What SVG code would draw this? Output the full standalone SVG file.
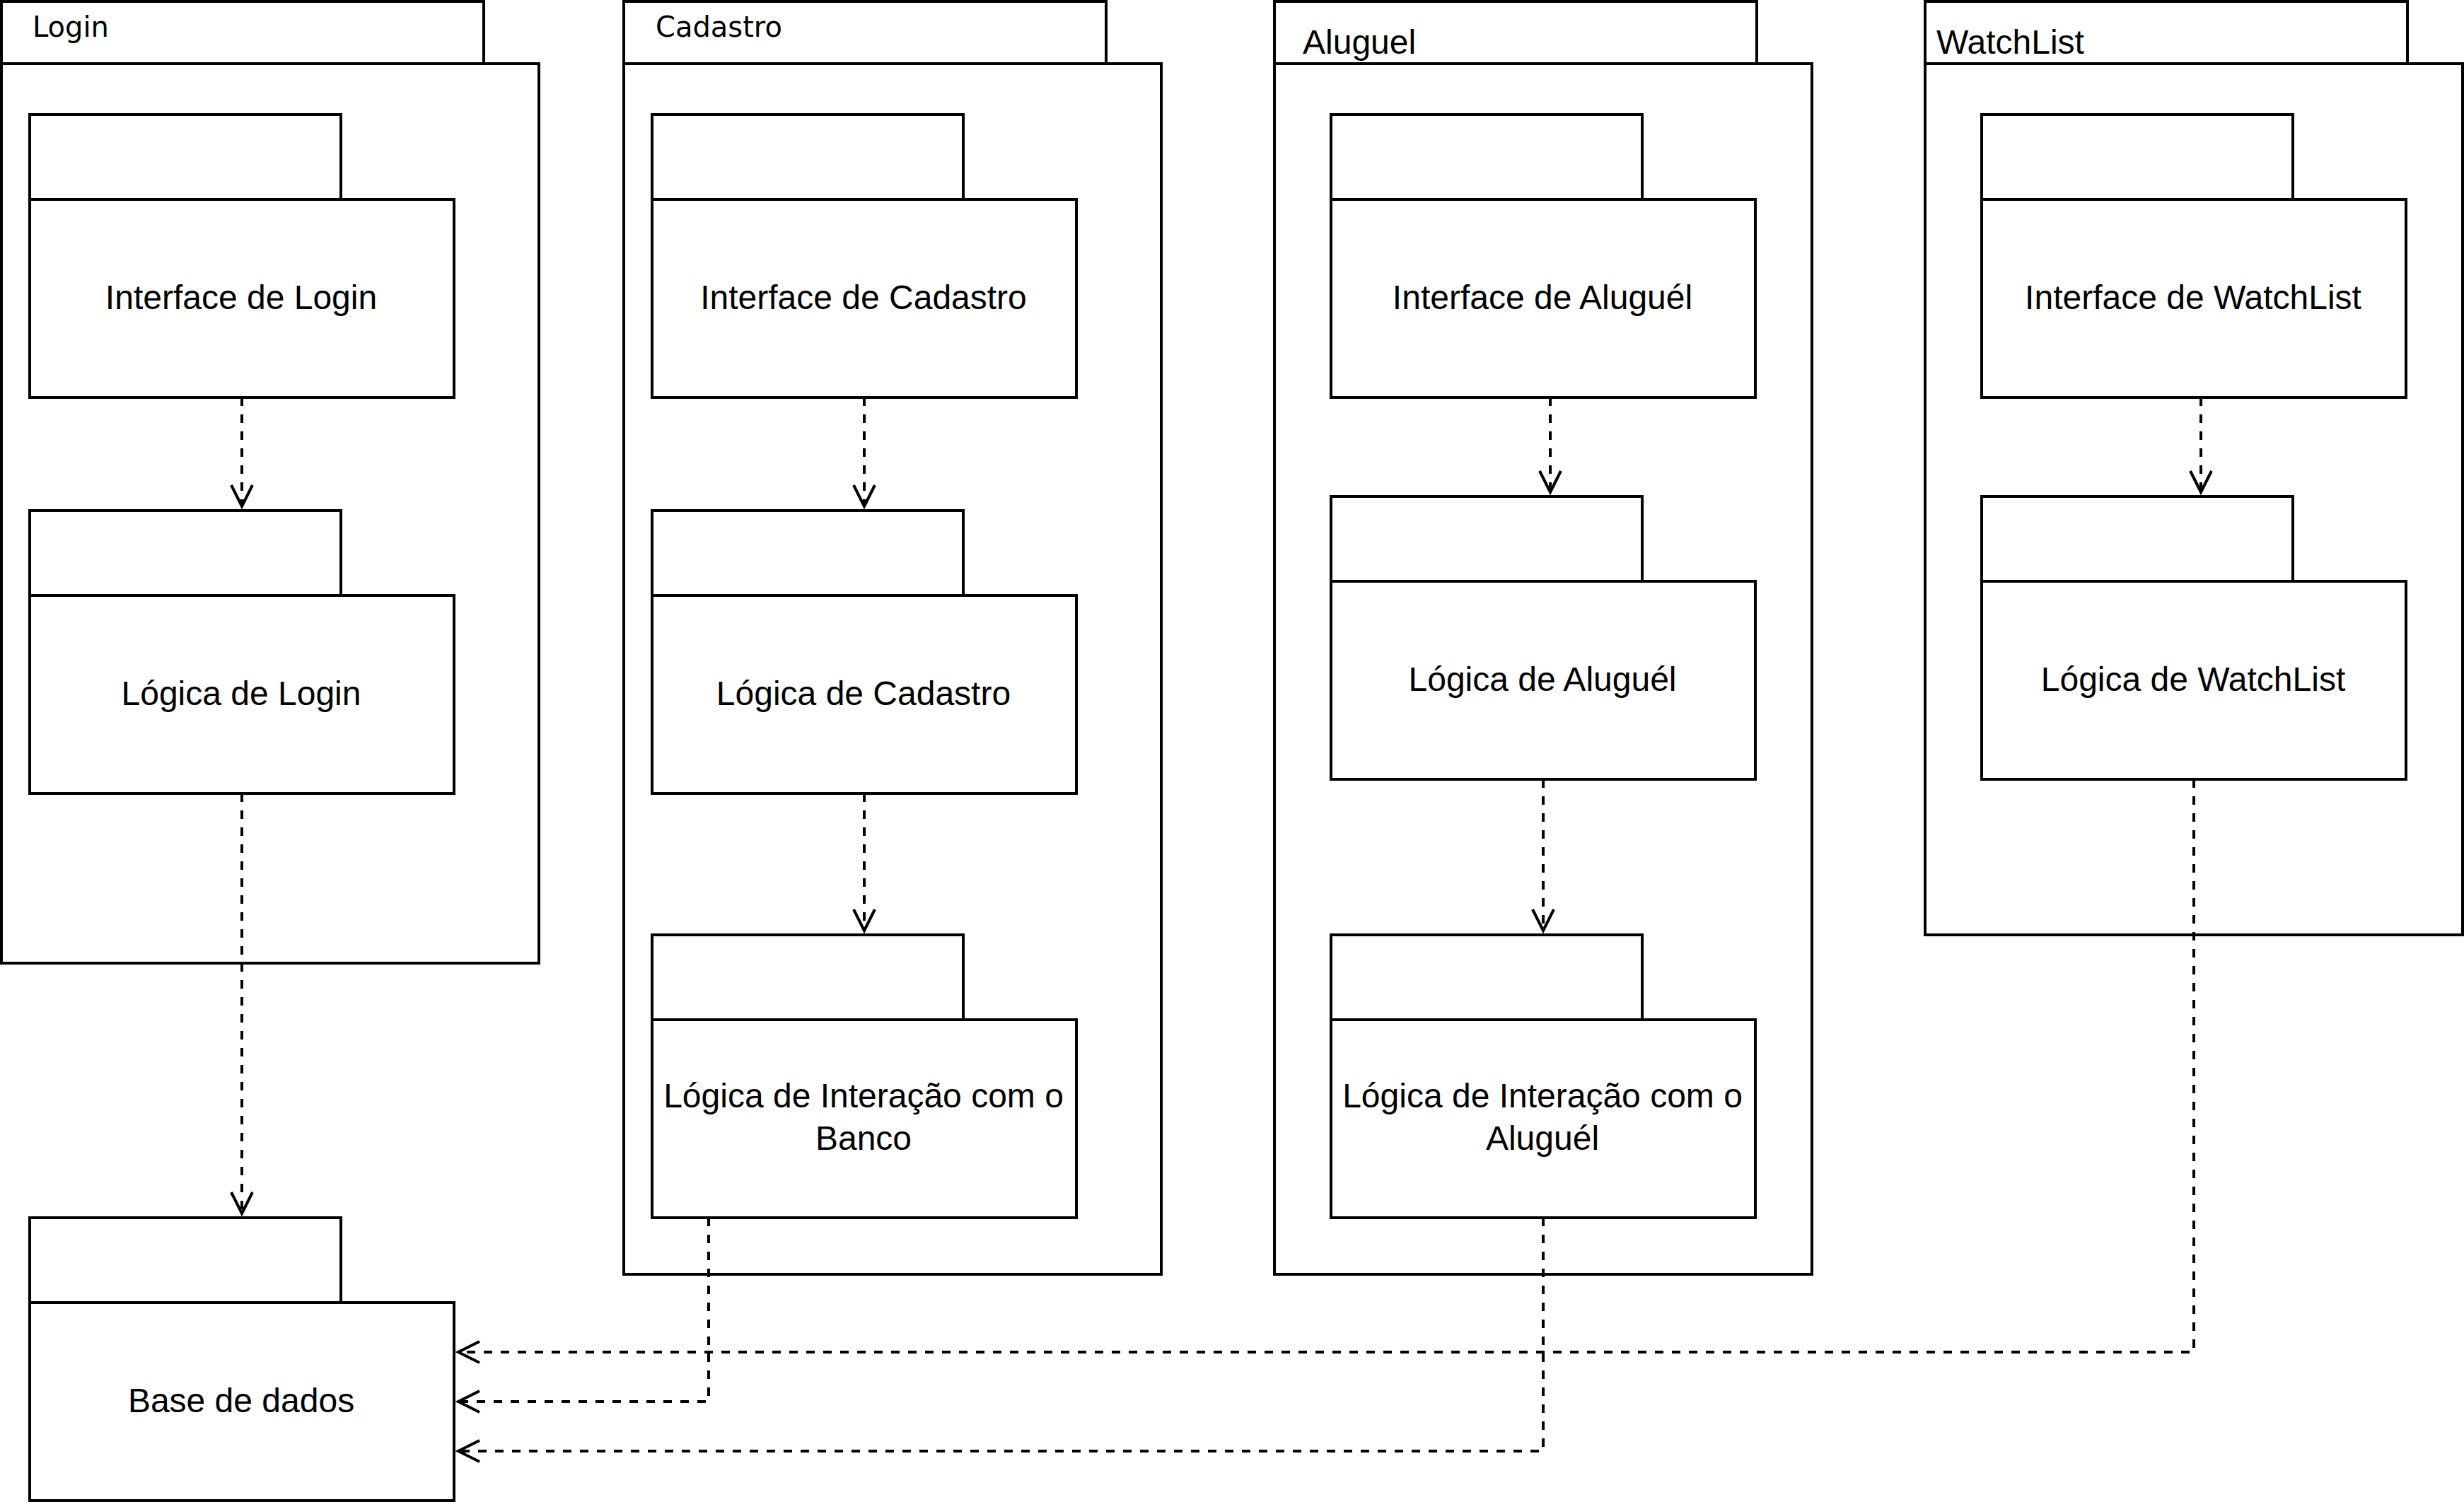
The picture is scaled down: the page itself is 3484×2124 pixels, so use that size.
<svg xmlns="http://www.w3.org/2000/svg" width="3484" height="2124" viewBox="0 0 3484 2124">
<style>
.s{fill:#fff;stroke:#000;stroke-width:4}
.c{fill:none;stroke:#000;stroke-width:4;stroke-dasharray:12 12;marker-end:url(#arr)}
.t{font-family:"Liberation Sans",Arial,sans-serif;font-size:48px;text-anchor:middle;fill:#000}
.tl{font-family:"Liberation Sans",Arial,sans-serif;font-size:48px;fill:#000}
.td{font-family:"DejaVu Sans",Verdana,sans-serif;font-size:40px;fill:#000}
</style>
<defs>
<marker id="arr" markerUnits="userSpaceOnUse" viewBox="-40 -20 50 40" refX="0" refY="0" markerWidth="50" markerHeight="40" orient="auto" overflow="visible">
<path d="M-30,-15 L0,0 L-30,15" fill="none" stroke="#000" stroke-width="4" stroke-dasharray="none"/>
</marker>
</defs>
<rect x="0" y="0" width="3484" height="2124" fill="#fff"/>

<g id="pkg-login">
<rect class="s" x="2" y="2" width="682" height="88"/>
<rect class="s" x="2" y="90" width="760" height="1272"/>
<text class="td" x="46" y="52">Login</text>
</g>
<g id="pkg-cadastro">
<rect class="s" x="882" y="2" width="682" height="88"/>
<rect class="s" x="882" y="90" width="760" height="1712"/>
<text class="td" x="927" y="52">Cadastro</text>
</g>
<g id="pkg-aluguel">
<rect class="s" x="1802" y="2" width="682" height="88"/>
<rect class="s" x="1802" y="90" width="760" height="1712"/>
<text class="tl" x="1842" y="76">Aluguel</text>
</g>
<g id="pkg-watchlist">
<rect class="s" x="2722" y="2" width="682" height="88"/>
<rect class="s" x="2722" y="90" width="760" height="1232"/>
<text class="tl" x="2738" y="76">WatchList</text>
</g>

<g id="interface-login">
<rect class="s" x="42" y="162" width="440" height="120"/>
<rect class="s" x="42" y="282" width="600" height="280"/>
<text class="t" x="341" y="437">Interface de Login</text>
</g>
<g id="logica-login">
<rect class="s" x="42" y="722" width="440" height="120"/>
<rect class="s" x="42" y="842" width="600" height="280"/>
<text class="t" x="341" y="997">Lógica de Login</text>
</g>
<g id="base-dados">
<rect class="s" x="42" y="1722" width="440" height="120"/>
<rect class="s" x="42" y="1842" width="600" height="280"/>
<text class="t" x="341" y="1997">Base de dados</text>
</g>

<g id="interface-cadastro">
<rect class="s" x="922" y="162" width="440" height="120"/>
<rect class="s" x="922" y="282" width="600" height="280"/>
<text class="t" x="1221" y="437">Interface de Cadastro</text>
</g>
<g id="logica-cadastro">
<rect class="s" x="922" y="722" width="440" height="120"/>
<rect class="s" x="922" y="842" width="600" height="280"/>
<text class="t" x="1221" y="997">Lógica de Cadastro</text>
</g>
<g id="interacao-banco">
<rect class="s" x="922" y="1322" width="440" height="120"/>
<rect class="s" x="922" y="1442" width="600" height="280"/>
<text class="t" x="1221" y="1566">Lógica de Interação com o</text>
<text class="t" x="1221" y="1626">Banco</text>
</g>

<g id="interface-aluguel">
<rect class="s" x="1882" y="162" width="440" height="120"/>
<rect class="s" x="1882" y="282" width="600" height="280"/>
<text class="t" x="2181" y="437">Interface de Aluguél</text>
</g>
<g id="logica-aluguel">
<rect class="s" x="1882" y="702" width="440" height="120"/>
<rect class="s" x="1882" y="822" width="600" height="280"/>
<text class="t" x="2181" y="977">Lógica de Aluguél</text>
</g>
<g id="interacao-aluguel">
<rect class="s" x="1882" y="1322" width="440" height="120"/>
<rect class="s" x="1882" y="1442" width="600" height="280"/>
<text class="t" x="2181" y="1566">Lógica de Interação com o</text>
<text class="t" x="2181" y="1626">Aluguél</text>
</g>

<g id="interface-watchlist">
<rect class="s" x="2802" y="162" width="440" height="120"/>
<rect class="s" x="2802" y="282" width="600" height="280"/>
<text class="t" x="3101" y="437">Interface de WatchList</text>
</g>
<g id="logica-watchlist">
<rect class="s" x="2802" y="702" width="440" height="120"/>
<rect class="s" x="2802" y="822" width="600" height="280"/>
<text class="t" x="3101" y="977">Lógica de WatchList</text>
</g>

<g id="connectors">
<path class="c" d="M342 562 V716"/>
<path class="c" d="M342 1122 V1716"/>
<path class="c" d="M1222 562 V716"/>
<path class="c" d="M1222 1122 V1316"/>
<path class="c" d="M1002 1722 V1982 H648"/>
<path class="c" d="M2192 562 V696"/>
<path class="c" d="M2182 1102 V1316"/>
<path class="c" d="M2182 1722 V2052 H648"/>
<path class="c" d="M3112 562 V696"/>
<path class="c" d="M3102 1102 V1912 H648"/>
</g>
</svg>
